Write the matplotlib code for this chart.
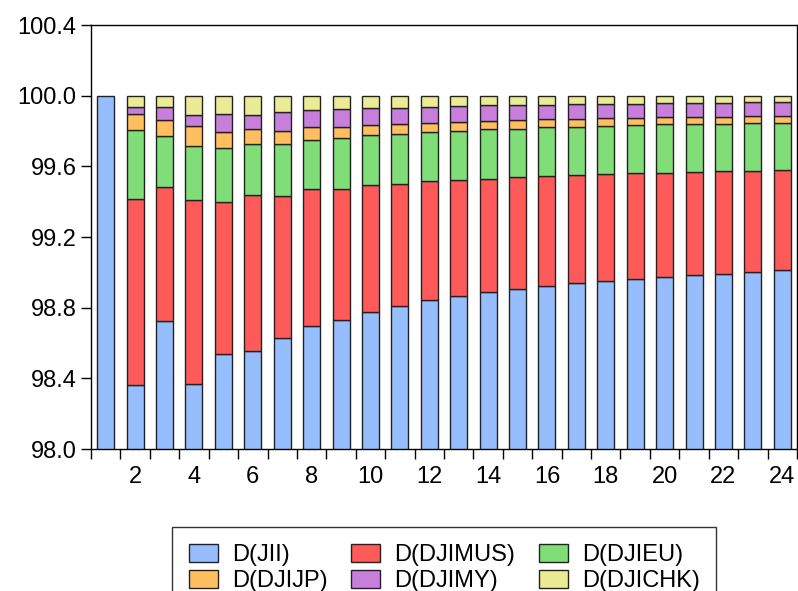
import numpy as np
import matplotlib
matplotlib.use("Agg")
import matplotlib.pyplot as plt
from matplotlib.patches import Patch

plt.rcParams['font.family'] = ['Liberation Sans', 'DejaVu Sans']

periods = np.arange(1, 25)

# variance decomposition shares (percent)
jii = [100.0, 98.360, 98.723, 98.370, 98.536, 98.557, 98.629, 98.695, 98.731, 98.778,
       98.809, 98.841, 98.864, 98.886, 98.907, 98.924, 98.939, 98.953, 98.964, 98.975,
       98.983, 98.992, 99.002, 99.011]
djimus = [0.0, 1.053, 0.760, 1.041, 0.864, 0.880, 0.801, 0.775, 0.739, 0.716,
          0.691, 0.674, 0.657, 0.644, 0.631, 0.621, 0.610, 0.604, 0.597, 0.589,
          0.583, 0.580, 0.572, 0.567]
djieu = [0.0, 0.395, 0.288, 0.303, 0.303, 0.288, 0.295, 0.280, 0.288, 0.281,
         0.282, 0.279, 0.278, 0.279, 0.276, 0.275, 0.275, 0.273, 0.272, 0.273,
         0.273, 0.269, 0.271, 0.270]
djijp = [0.0, 0.089, 0.091, 0.114, 0.092, 0.084, 0.076, 0.070, 0.064, 0.060,
         0.057, 0.054, 0.053, 0.049, 0.050, 0.046, 0.043, 0.043, 0.040, 0.040,
         0.040, 0.040, 0.038, 0.037]
djimy = [0.0, 0.038, 0.072, 0.061, 0.101, 0.083, 0.106, 0.099, 0.100, 0.093,
         0.093, 0.088, 0.087, 0.087, 0.081, 0.081, 0.084, 0.080, 0.082, 0.079,
         0.079, 0.079, 0.079, 0.077]
djichk = [0.0, 0.065, 0.066, 0.111, 0.104, 0.108, 0.093, 0.081, 0.078, 0.072,
          0.068, 0.064, 0.061, 0.055, 0.055, 0.053, 0.049, 0.047, 0.045, 0.044,
          0.042, 0.040, 0.038, 0.038]

series = [jii, djimus, djieu, djijp, djimy, djichk]
names = ['D(JII)', 'D(DJIMUS)', 'D(DJIEU)', 'D(DJIJP)', 'D(DJIMY)', 'D(DJICHK)']
colors = ['#96BEFF', '#FF5A5A', '#80DD77', '#FFBE5F', '#C87FDB', '#EBEB96']

fig = plt.figure(figsize=(7.98, 5.91), dpi=100)
ax = fig.add_axes([91/798, 1-449/591, (797-91)/798, (449-25)/591])

bottom = np.zeros(len(periods))
for vals, nm, col in zip(series, names, colors):
    # no outline on empty segments (period 1 is all JII)
    edges = ['#222222' if v > 0 else 'none' for v in vals]
    ax.bar(periods, vals, width=0.58, bottom=bottom, color=col,
           edgecolor=edges, linewidth=1.0)
    bottom += np.array(vals)

ax.set_ylim(98.0, 100.4)
ax.set_xlim(0.5, 24.5)
ax.set_yticks(np.arange(98.0, 100.41, 0.4))
ax.set_yticklabels(['%.1f' % v for v in np.arange(98.0, 100.41, 0.4)])
ax.set_xticks(np.arange(2, 25, 2))
ax.set_xticks(np.arange(0.5, 24.6, 1), minor=True)
ax.tick_params(axis='x', which='major', length=0, pad=12, labelsize=17)
ax.tick_params(axis='x', which='minor', length=7.5, width=1, direction='out')
ax.tick_params(axis='y', which='major', length=7.5, width=1, pad=3, labelsize=17)
for s in ax.spines.values():
    s.set_linewidth(1.0)

# legend rows: JII, DJIMUS, DJIEU / DJIJP, DJIMY, DJICHK
handles = [Patch(facecolor=c, edgecolor='#222222', linewidth=1.0) for c in colors]
order = [0, 3, 1, 4, 2, 5]
leg = fig.legend([handles[i] for i in order], [names[i] for i in order], ncol=3,
                 loc='upper left', bbox_to_anchor=(172/798, 1-527/591),
                 borderaxespad=0, fontsize=17, frameon=True, fancybox=False,
                 edgecolor='black', handlelength=1.23, handleheight=0.8,
                 handletextpad=0.6, columnspacing=1.0, labelspacing=0.17,
                 borderpad=0.7)
leg.get_frame().set_linewidth(1.0)

fig.savefig('out.png', dpi=100)
